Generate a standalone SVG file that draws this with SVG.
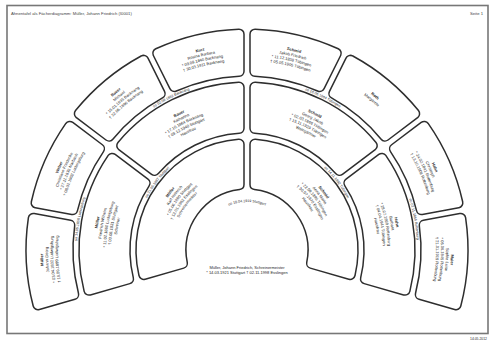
<svg xmlns="http://www.w3.org/2000/svg" xmlns:xlink="http://www.w3.org/1999/xlink" width="492" height="341" viewBox="0 0 492 341">
<style>
.ol{fill:none;stroke:#2e2e2e;stroke-width:11.5;stroke-linejoin:round}
.fi{fill:#fff;stroke:#fff;stroke-width:8.5;stroke-linejoin:round}
text{font-family:"Liberation Sans",Arial,sans-serif;fill:#262626}
.t{font-size:4px;text-anchor:middle}
.nm{font-weight:bold}
.m{font-size:3.6px;text-anchor:middle}
.hd{font-size:4.2px;fill:#444}
</style>
<defs>
<path id="r204" d="M247 454A204 204 0 1 1 247 46A204 204 0 1 1 247 454"/>
<path id="r199" d="M247 449A199 199 0 1 1 247 51A199 199 0 1 1 247 449"/>
<path id="r194" d="M247 444A194 194 0 1 1 247 56A194 194 0 1 1 247 444"/>
<path id="r189" d="M247 439A189 189 0 1 1 247 61A189 189 0 1 1 247 439"/>
<path id="r170" d="M247 420A170 170 0 1 1 247 80A170 170 0 1 1 247 420"/>
<path id="r151" d="M247 401A151 151 0 1 1 247 99A151 151 0 1 1 247 401"/>
<path id="r146" d="M247 396A146 146 0 1 1 247 104A146 146 0 1 1 247 396"/>
<path id="r141" d="M247 391A141 141 0 1 1 247 109A141 141 0 1 1 247 391"/>
<path id="r136" d="M247 386A136 136 0 1 1 247 114A136 136 0 1 1 247 386"/>
<path id="r131" d="M247 381A131 131 0 1 1 247 119A131 131 0 1 1 247 381"/>
<path id="r113" d="M247 362.7A112.7 112.7 0 1 1 247 137.3A112.7 112.7 0 1 1 247 362.7"/>
<path id="r95" d="M247 345A95 95 0 1 1 247 155A95 95 0 1 1 247 345"/>
<path id="r90" d="M247 340A90 90 0 1 1 247 160A90 90 0 1 1 247 340"/>
<path id="r85" d="M247 335A85 85 0 1 1 247 165A85 85 0 1 1 247 335"/>
<path id="r80" d="M247 330A80 80 0 1 1 247 170A80 80 0 1 1 247 330"/>
<path id="r75" d="M247 325A75 75 0 1 1 247 175A75 75 0 1 1 247 325"/>
<path id="r48" d="M247 298A48 48 0 1 1 247 202A48 48 0 1 1 247 298"/>

<path id="k1l" d="M239 184.49L239 144.31A106 106 0 0 0 143.84 274.38L182.36 263.33A66 66 0 0 1 239 184.49Z"/>
<path id="k1r" d="M255 184.49L255 144.31A106 106 0 0 1 350.16 274.38L311.64 263.33A66 66 0 0 0 255 184.49Z"/>

<path id="k2a" d="M144.96 183.12L112.18 158.41A163 163 0 0 0 89 290.1L128.44 278.8A122 122 0 0 1 144.96 183.12Z"/>
<path id="k2b" d="M239 128.26L239 87.2A163 163 0 0 0 121.8 145.63L154.58 170.33A122 122 0 0 1 239 128.26Z"/>
<path id="k2c" d="M255 128.26L255 87.2A163 163 0 0 1 372.2 145.63L339.42 170.33A122 122 0 0 0 255 128.26Z"/>
<path id="k2d" d="M349.04 183.12L381.82 158.41A163 163 0 0 1 405 290.1L365.56 278.8A122 122 0 0 0 349.04 183.12Z"/>

<path id="k31" d="M69.72 225.27L33.31 218.52A216 216 0 0 0 38.03 304.7L73.62 294.51A179 179 0 0 1 69.72 225.27Z"/>
<path id="k32" d="M99.38 148.76L69.79 126.46A216 216 0 0 0 36.21 202.81L72.6 209.54A179 179 0 0 1 99.38 148.76Z"/>
<path id="k33" d="M160.05 93.53L143.53 60.39A216 216 0 0 0 79.41 113.7L109 135.99A179 179 0 0 1 160.05 93.53Z"/>
<path id="k34" d="M239 71.18L239 34.15A216 216 0 0 0 157.84 53.26L174.37 86.4A179 179 0 0 1 239 71.18Z"/>
<path id="k35" d="M255 71.18L255 34.15A216 216 0 0 1 336.16 53.26L319.63 86.4A179 179 0 0 0 255 71.18Z"/>
<path id="k36" d="M333.95 93.53L350.47 60.39A216 216 0 0 1 414.59 113.7L385 135.99A179 179 0 0 0 333.95 93.53Z"/>
<path id="k37" d="M394.62 148.76L424.21 126.46A216 216 0 0 1 457.79 202.81L421.4 209.54A179 179 0 0 0 394.62 148.76Z"/>
<path id="k38" d="M424.28 225.27L460.69 218.52A216 216 0 0 1 455.97 304.7L420.38 294.51A179 179 0 0 0 424.28 225.27Z"/>
</defs>

<rect x="7" y="5.5" width="481" height="328" fill="#fff" stroke="#777" stroke-width="1.6"/>
<text class="hd" x="11" y="14.5">Ahnentafel als Fächerdiagramm: Müller, Johann Friedrich (I0001)</text>
<text class="hd" x="483" y="14.5" text-anchor="end">Seite 1</text>
<text x="487" y="339.6" font-size="3.4" text-anchor="end" fill="#555">14.05.2012</text>

<g id="root">
<text class="t" x="247" y="268.8">Müller, Johann Friedrich, Schreinermeister</text>
<text class="t" x="247" y="274.2">* 14.03.1921 Stuttgart   † 02.11.1998 Esslingen</text>
</g>

<g id="father">
<use href="#k1l" class="ol"/><use href="#k1l" class="fi"/>
<text class="t"><textPath href="#r95" startOffset="35.278%" class="nm">Müller</textPath></text>
<text class="t"><textPath href="#r90" startOffset="35.278%">Karl Heinrich</textPath></text>
<text class="t"><textPath href="#r85" startOffset="35.278%">* 05.06.1890 Stuttgart</textPath></text>
<text class="t"><textPath href="#r80" startOffset="35.278%">† 12.01.1962 Esslingen</textPath></text>
<text class="t"><textPath href="#r75" startOffset="35.278%">Schreinermeister</textPath></text>
</g>
<g id="mother">
<use href="#k1r" class="ol"/><use href="#k1r" class="fi"/>
<text class="t"><textPath href="#r95" startOffset="64.722%" class="nm">Schmid</textPath></text>
<text class="t"><textPath href="#r90" startOffset="64.722%">Anna Maria</textPath></text>
<text class="t"><textPath href="#r85" startOffset="64.722%">* 22.09.1895 Tübingen</textPath></text>
<text class="t"><textPath href="#r80" startOffset="64.722%">† 30.07.1970 Esslingen</textPath></text>
<text class="t"><textPath href="#r75" startOffset="64.722%">Hausfrau</textPath></text>
</g>

<g id="gf-father">
<use href="#k2a" class="ol"/><use href="#k2a" class="fi"/>
<text class="t"><textPath href="#r151" startOffset="27.917%" class="nm">Müller</textPath></text>
<text class="t"><textPath href="#r146" startOffset="27.917%">Friedrich Wilhelm</textPath></text>
<text class="t"><textPath href="#r141" startOffset="27.917%">* 11.02.1860 Ludwigsburg</textPath></text>
<text class="t"><textPath href="#r136" startOffset="27.917%">† 03.08.1931 Stuttgart</textPath></text>
<text class="t"><textPath href="#r131" startOffset="27.917%">Schreiner</textPath></text>
</g>
<g id="gm-father">
<use href="#k2b" class="ol"/><use href="#k2b" class="fi"/>
<text class="t"><textPath href="#r151" startOffset="42.639%" class="nm">Bauer</textPath></text>
<text class="t"><textPath href="#r146" startOffset="42.639%">Katharina</textPath></text>
<text class="t"><textPath href="#r141" startOffset="42.639%">* 17.10.1864 Backnang</textPath></text>
<text class="t"><textPath href="#r136" startOffset="42.639%">† 09.12.1940 Stuttgart</textPath></text>
<text class="t"><textPath href="#r131" startOffset="42.639%">Hausfrau</textPath></text>
</g>
<g id="gf-mother">
<use href="#k2c" class="ol"/><use href="#k2c" class="fi"/>
<text class="t"><textPath href="#r151" startOffset="57.361%" class="nm">Schmid</textPath></text>
<text class="t"><textPath href="#r146" startOffset="57.361%">Georg Jakob</textPath></text>
<text class="t"><textPath href="#r141" startOffset="57.361%">* 02.03.1866 Tübingen</textPath></text>
<text class="t"><textPath href="#r136" startOffset="57.361%">† 15.11.1929 Tübingen</textPath></text>
<text class="t"><textPath href="#r131" startOffset="57.361%">Weingärtner</textPath></text>
</g>
<g id="gm-mother">
<use href="#k2d" class="ol"/><use href="#k2d" class="fi"/>
<text class="t"><textPath href="#r151" startOffset="72.083%" class="nm">Hahn</textPath></text>
<text class="t"><textPath href="#r146" startOffset="72.083%">Barbara</textPath></text>
<text class="t"><textPath href="#r141" startOffset="72.083%">* 28.07.1869 Rottenburg</textPath></text>
<text class="t"><textPath href="#r136" startOffset="72.083%">† 04.04.1944 Tübingen</textPath></text>
<text class="t"><textPath href="#r131" startOffset="72.083%">Hausfrau</textPath></text>
</g>

<g id="ggp1">
<use href="#k31" class="ol"/><use href="#k31" class="fi"/>
<text class="t"><textPath href="#r204" startOffset="24.236%" class="nm">Müller</textPath></text>
<text class="t"><textPath href="#r199" startOffset="24.236%">Johann Georg</textPath></text>
<text class="t"><textPath href="#r194" startOffset="24.236%">* 03.04.1832 Ludwigsburg</textPath></text>
<text class="t"><textPath href="#r189" startOffset="24.236%">† 19.09.1899 Ludwigsburg</textPath></text>
</g>
<g id="ggp2">
<use href="#k32" class="ol"/><use href="#k32" class="fi"/>
<text class="t"><textPath href="#r204" startOffset="31.597%" class="nm">Weber</textPath></text>
<text class="t"><textPath href="#r199" startOffset="31.597%">Christiane Friederike</textPath></text>
<text class="t"><textPath href="#r194" startOffset="31.597%">* 27.11.1836 Marbach</textPath></text>
<text class="t"><textPath href="#r189" startOffset="31.597%">† 08.02.1902 Ludwigsburg</textPath></text>
</g>
<g id="ggp3">
<use href="#k33" class="ol"/><use href="#k33" class="fi"/>
<text class="t"><textPath href="#r204" startOffset="38.958%" class="nm">Bauer</textPath></text>
<text class="t"><textPath href="#r199" startOffset="38.958%">Michael</textPath></text>
<text class="t"><textPath href="#r194" startOffset="38.958%">* 15.01.1835 Backnang</textPath></text>
<text class="t"><textPath href="#r189" startOffset="38.958%">† 22.06.1890 Backnang</textPath></text>
</g>
<g id="ggp4">
<use href="#k34" class="ol"/><use href="#k34" class="fi"/>
<text class="t"><textPath href="#r204" startOffset="46.319%" class="nm">Kurz</textPath></text>
<text class="t"><textPath href="#r199" startOffset="46.319%">Rosina Barbara</textPath></text>
<text class="t"><textPath href="#r194" startOffset="46.319%">* 09.08.1840 Backnang</textPath></text>
<text class="t"><textPath href="#r189" startOffset="46.319%">† 30.03.1911 Backnang</textPath></text>
</g>
<g id="ggp5">
<use href="#k35" class="ol"/><use href="#k35" class="fi"/>
<text class="t"><textPath href="#r204" startOffset="53.681%" class="nm">Schmid</textPath></text>
<text class="t"><textPath href="#r199" startOffset="53.681%">Jakob Friedrich</textPath></text>
<text class="t"><textPath href="#r194" startOffset="53.681%">* 11.12.1838 Tübingen</textPath></text>
<text class="t"><textPath href="#r189" startOffset="53.681%">† 05.05.1905 Tübingen</textPath></text>
</g>
<g id="ggp6">
<use href="#k36" class="ol"/><use href="#k36" class="fi"/>
<text class="t"><textPath href="#r199" startOffset="61.042%" class="nm">Roth</textPath></text>
<text class="t"><textPath href="#r194" startOffset="61.042%">Margarete</textPath></text>
</g>
<g id="ggp7">
<use href="#k37" class="ol"/><use href="#k37" class="fi"/>
<text class="t"><textPath href="#r204" startOffset="68.403%" class="nm">Hahn</textPath></text>
<text class="t"><textPath href="#r199" startOffset="68.403%">Christoph</textPath></text>
<text class="t"><textPath href="#r194" startOffset="68.403%">* 24.02.1841 Rottenburg</textPath></text>
<text class="t"><textPath href="#r189" startOffset="68.403%">† 13.10.1908 Rottenburg</textPath></text>
</g>
<g id="ggp8">
<use href="#k38" class="ol"/><use href="#k38" class="fi"/>
<text class="t"><textPath href="#r204" startOffset="75.764%" class="nm">Maier</textPath></text>
<text class="t"><textPath href="#r199" startOffset="75.764%">Sophie Luise</textPath></text>
<text class="t"><textPath href="#r194" startOffset="75.764%">* 06.06.1845 Rottenburg</textPath></text>
<text class="t"><textPath href="#r189" startOffset="75.764%">† 21.01.1919 Rottenburg</textPath></text>
</g>

<g id="marriages">
<text class="m"><textPath href="#r48" startOffset="50%">oo 18.04.1919 Stuttgart</textPath></text>
<text class="m"><textPath href="#r113" startOffset="35.278%">oo 21.05.1887 Stuttgart</textPath></text>
<text class="m"><textPath href="#r113" startOffset="64.722%">oo 14.11.1892 Tübingen</textPath></text>
<text class="m"><textPath href="#r170" startOffset="27.917%">oo 14.05.1858 Ludwigsburg</textPath></text>
<text class="m"><textPath href="#r170" startOffset="42.639%">oo 02.09.1862 Backnang</textPath></text>
<text class="m"><textPath href="#r170" startOffset="57.361%">oo 18.06.1864 Tübingen</textPath></text>
<text class="m"><textPath href="#r170" startOffset="72.083%">oo 07.11.1866 Rottenburg</textPath></text>
</g>
</svg>
